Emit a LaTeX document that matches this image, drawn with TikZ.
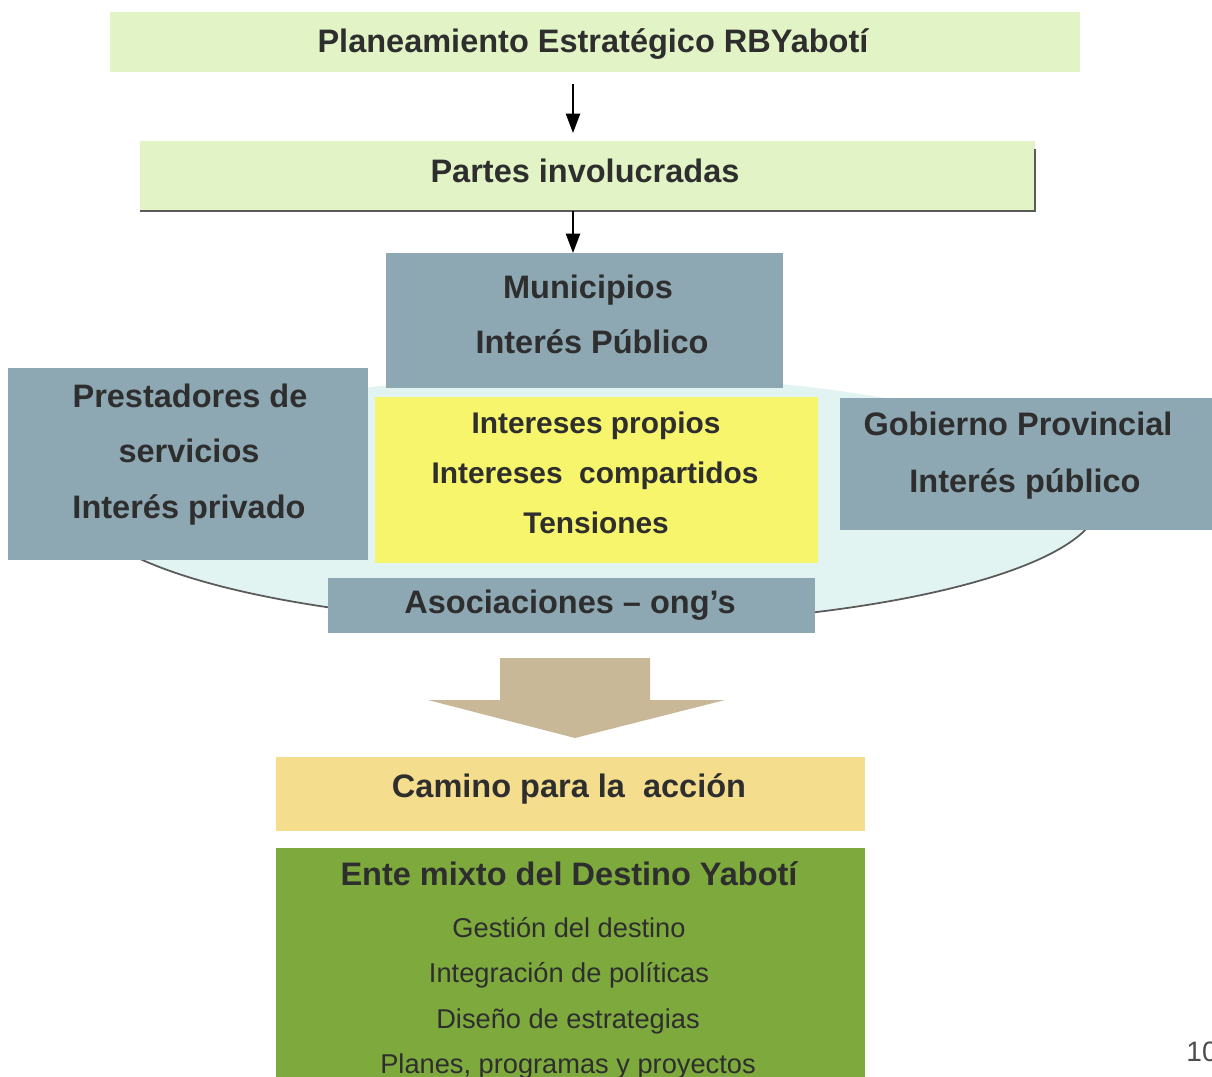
\documentclass[tikz,border=0pt]{standalone}
\usepackage{fontspec}
\setmainfont{Liberation Sans}
\usetikzlibrary{arrows.meta}
\definecolor{lgreen}{HTML}{E2F4C6}
\definecolor{slate}{HTML}{8DA8B3}
\definecolor{yel}{HTML}{F6F56C}
\definecolor{cyanlt}{HTML}{E2F4F2}
\definecolor{tanarrow}{HTML}{C9B897}
\definecolor{camino}{HTML}{F5DD8E}
\definecolor{olive}{HTML}{7DA93D}
\definecolor{ink}{HTML}{2E2E2E}
\definecolor{edge}{HTML}{5A5A5A}
\begin{document}
\begin{tikzpicture}[x=0.02cm,y=-0.02cm,
  panel/.style={draw=none, inner sep=0pt, outer sep=0pt},
  bold/.style={text=ink, font=\fontsize{18.5}{22}\selectfont\bfseries, inner sep=0pt, anchor=base},
  boldsm/.style={text=ink, font=\fontsize{17}{20}\selectfont\bfseries, inner sep=0pt, anchor=base},
  plain/.style={text=ink, font=\fontsize{15.5}{18}\selectfont, inner sep=0pt, anchor=base},
  arr/.style={draw=black, line width=1.1pt, -{Triangle[length=11pt,width=8pt]}}]
\useasboundingbox (0,0) rectangle (1212,1076);
\fill[white] (0,0) rectangle (1212,1076);

% top boxes
\node[panel, fill=lgreen, minimum width=19.4cm, minimum height=1.2cm] (plan) at (595,42) {};
\node[bold] (planT) at (593,52) {Planeamiento Estratégico RBYabotí};
\node[panel, fill=lgreen, minimum width=17.9cm, minimum height=1.4cm] (partes) at (587.5,176) {};
\draw[edge, line width=1.3pt] (partes.south west) -- (partes.south east) -- ([yshift=-0.15cm]partes.north east);
\node[bold] (partesT) at (585,182) {Partes involucradas};

\coordinate (ax) at (573,0);
\draw[arr] (plan.south -| ax) ++(0,12) coordinate (a1s) -- ([yshift=0.16cm]partes.north -| ax);

% ellipse
\fill[cyanlt] (590,500) ellipse [x radius=510, y radius=125];
\draw[edge, line width=1pt] (590,500) ++(510,0) arc[start angle=0, end angle=180, x radius=510, y radius=125];

% municipios
\node[panel, fill=slate, minimum width=7.94cm, minimum height=2.7cm] (muni) at (584.5,320.5) {};
\draw[arr] (partes.south -| ax) -- (muni.north -| ax);
\node[bold] at (588,298) {Municipios};
\node[bold] at (592,353) {Interés Público};

% prestadores
\node[panel, fill=slate, minimum width=7.2cm, minimum height=3.84cm] (prest) at (188,464) {};
\node[bold] at (190,407) {Prestadores de};
\node[bold] at (189,462) {servicios};
\node[bold] at (189,518) {Interés privado};

% yellow
\node[panel, fill=yel, minimum width=8.86cm, minimum height=3.32cm] (yel) at (596.5,480) {};
\node[boldsm] at (596,433) {Intereses propios};
\node[boldsm] at (595,483) {Intereses\ \ compartidos};
\node[boldsm] at (596,533) {Tensiones};

% gobierno
\node[panel, fill=slate, minimum width=7.44cm, minimum height=2.64cm] (gob) at (1026,464) {};
\node[bold] at (1018,435) {Gobierno Provincial};
\node[bold] at (1025,492) {Interés público};

% asociaciones
\node[panel, fill=slate, minimum width=9.74cm, minimum height=1.1cm] (asoc) at (571.5,605.5) {};
\node[bold] at (570,613) {Asociaciones – ong’s};

% block arrow
\fill[tanarrow] (500,658) -- (650,658) -- (650,700) -- (725,700) -- (575,738) -- (428,700) -- (500,700) -- cycle;

% camino
\node[panel, fill=camino, minimum width=11.78cm, minimum height=1.48cm] (camino) at (570.5,794) {};
\node[bold] at (569,797) {Camino para la\ \ acción};

% ente
\fill[olive] (276,848) rectangle (865,1100);
\node[bold] at (569,885) {Ente mixto del Destino Yabotí};
\node[plain] at (569,937) {Gestión del destino};
\node[plain] at (569,982) {Integración de políticas};
\node[plain] at (568,1028) {Diseño de estrategias};
\node[plain] at (568,1073) {Planes, programas y proyectos};

\node[text=ink!85, font=\fontsize{16}{18}\selectfont, anchor=base west, inner sep=0pt] at (1186,1061) {10};
\end{tikzpicture}
\end{document}
